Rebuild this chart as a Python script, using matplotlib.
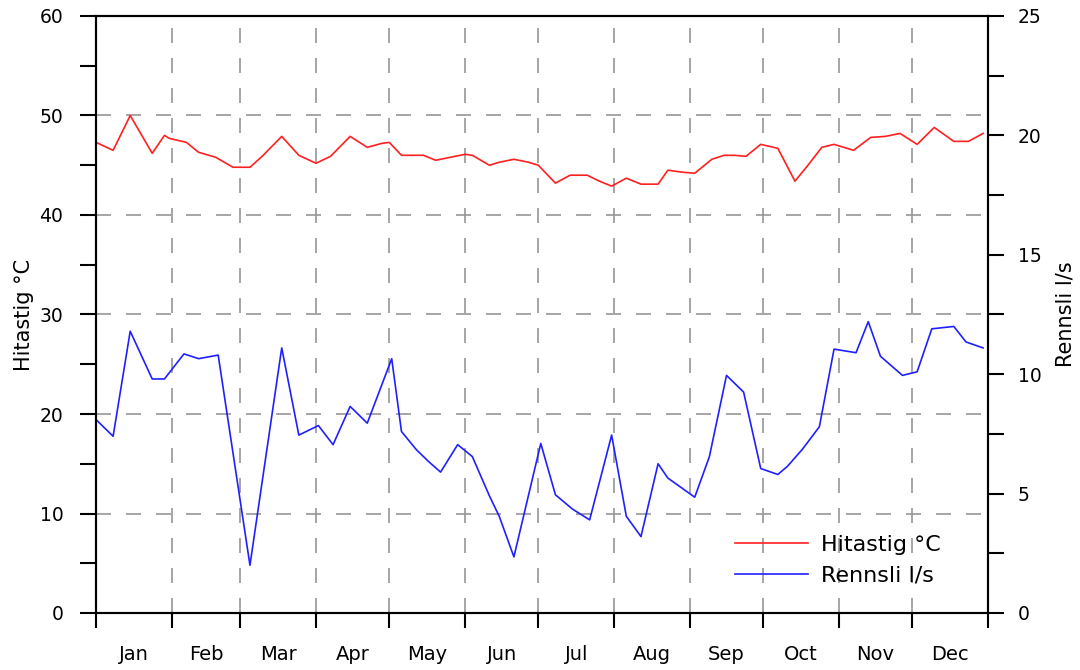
import matplotlib
matplotlib.use('Agg')
import matplotlib.pyplot as plt
import numpy as np

plt.rcParams['font.family'] = ['DejaVu Sans']

# day of year / values
temp_days = [0, 7, 14, 23, 28, 30, 37, 42, 49, 56, 63, 68, 76, 83, 90, 96, 104, 111, 117, 120,
             125, 134, 139, 145, 151, 154, 161, 165, 171, 177, 181, 188, 194, 201, 206, 211, 217,
             223, 230, 234, 240, 245, 252, 257, 261, 266, 272, 279, 286, 291, 297, 302, 310, 317,
             323, 329, 336, 343, 351, 357, 363]
temp_vals = [47.3, 46.5, 50.0, 46.2, 48.0, 47.7, 47.3, 46.3, 45.8, 44.8, 44.8, 45.9, 47.9, 46.0,
             45.2, 45.9, 47.9, 46.8, 47.2, 47.3, 46.0, 46.0, 45.5, 45.8, 46.1, 46.0, 45.0, 45.3,
             45.6, 45.3, 45.0, 43.2, 44.0, 44.0, 43.4, 42.9, 43.7, 43.1, 43.1, 44.5, 44.3, 44.2,
             45.6, 46.0, 46.0, 45.9, 47.1, 46.7, 43.4, 44.9, 46.8, 47.1, 46.5, 47.8, 47.9, 48.2,
             47.1, 48.8, 47.4, 47.4, 48.2]

flow_days = [0, 7, 14, 23, 28, 36, 42, 50, 63, 76, 83, 91, 97, 104, 111, 121, 125, 131, 136,
             141, 148, 154, 161, 165, 171, 182, 188, 195, 202, 211, 217, 223, 230, 234, 245,
             251, 258, 265, 272, 279, 283, 289, 296, 302, 311, 316, 321, 330, 336, 342, 351,
             356, 363]
flow_vals = [8.1, 7.4, 11.8, 9.8, 9.8, 10.85, 10.65, 10.8, 2.0, 11.1, 7.45, 7.85, 7.05, 8.65,
             7.95, 10.65, 7.6, 6.85, 6.35, 5.9, 7.05, 6.55, 4.9, 4.05, 2.35, 7.1, 4.95, 4.35,
             3.9, 7.45, 4.05, 3.2, 6.25, 5.65, 4.85, 6.55, 9.95, 9.25, 6.05, 5.8, 6.15, 6.85,
             7.8, 11.05, 10.9, 12.2, 10.75, 9.95, 10.1, 11.9, 12.0, 11.35, 11.1]

months = ['Jan', 'Feb', 'Mar', 'Apr', 'May', 'Jun', 'Jul', 'Aug', 'Sep', 'Oct', 'Nov', 'Dec']
month_starts = [0, 31, 59, 90, 120, 151, 181, 212, 243, 273, 304, 334, 365]
month_mids = [(a + b) / 2 for a, b in zip(month_starts[:-1], month_starts[1:])]

fig = plt.figure(figsize=(10.8, 6.7), dpi=100)
ax = fig.add_axes([96 / 1080, 57 / 670, 892 / 1080, 597 / 670])
ax2 = ax.twinx()

l1, = ax.plot(temp_days, temp_vals, color='#ff2020', lw=1.2, label='Hitastig °C')
l2, = ax2.plot(flow_days, flow_vals, color='#2020ff', lw=1.2, label='Rennsli l/s')

ax.set_xlim(0, 365)
ax.set_ylim(0, 60)
ax2.set_ylim(0, 25)

ax.set_yticks(range(0, 61, 10))
ax.set_yticks(range(5, 60, 10), minor=True)
ax2.set_yticks(range(0, 26, 5))
ax2.set_yticks(np.arange(2.5, 25, 5), minor=True)

ax.set_xticks(month_starts)
ax.set_xticklabels([])
ax.set_xticks(month_mids, minor=True)
ax.set_xticklabels(months, minor=True)

ax.tick_params(axis='x', which='major', length=11, width=1.5, direction='out')
ax.tick_params(axis='x', which='minor', length=0, pad=23, labelsize=14)
ax.tick_params(axis='y', which='both', length=11.5, width=1.5, pad=12, labelsize=13.5)
ax2.tick_params(axis='y', which='both', length=11.5, width=1.5, pad=10, labelsize=13.5)

ax.grid(True, which='major', color='#969696', ls=(0, (9, 9)), lw=1.2)

for a in (ax, ax2):
    for s in a.spines.values():
        s.set_linewidth(1.5)
        s.set_color('black')

ax.set_ylabel('Hitastig °C', fontsize=15)
ax.yaxis.set_label_coords(-0.069, 0.5)
ax2.set_ylabel('Rennsli l/s', fontsize=15)
ax2.yaxis.set_label_coords(1.076, 0.5)

ax2.legend([l1, l2], ['Hitastig °C', 'Rennsli l/s'], loc='upper left',
           bbox_to_anchor=(0.716, 0.131), frameon=False, fontsize=16,
           handlelength=3.3, handletextpad=0.6, labelspacing=0.5,
           borderpad=0, borderaxespad=0)

fig.savefig('out.png', dpi=100)
